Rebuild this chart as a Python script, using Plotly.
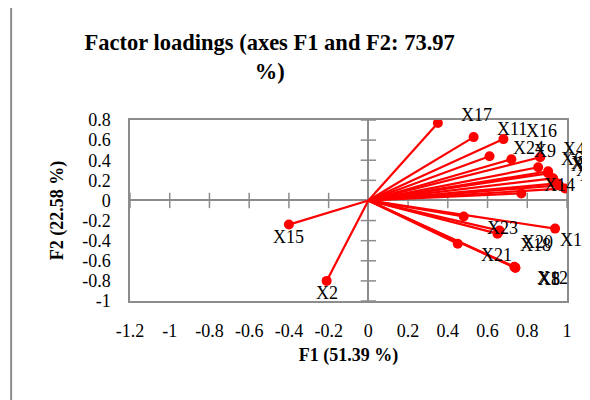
import plotly.graph_objects as go

# ---- data ----
variables = ["X17", "X11", "X16", "X24", "X9", "X4", "X6", "X3", "X13", "X7", "X10", "X22", "X1", "X14",
             "X23", "X18", "X20", "X19", "X21", "X8", "X5", "X12",
             "X15", "X2"]
f1 = [0.35, 0.53, 0.68, 0.61, 0.72, 0.865, 0.855, 0.905, 0.905, 0.93, 0.95, 0.96, 0.99, 0.77,
      0.48, 0.65, 0.66, 0.94, 0.45, 0.74, 0.74, 0.735,
      -0.40, -0.21]
f2 = [0.77, 0.63, 0.61, 0.44, 0.41, 0.43, 0.33, 0.29, 0.27, 0.22, 0.17, 0.15, 0.12, 0.07,
      -0.16, -0.33, -0.30, -0.28, -0.43, -0.67, -0.67, -0.66,
      -0.24, -0.80]
x_ticks = [-1.2, -1, -0.8, -0.6, -0.4, -0.2, 0, 0.2, 0.4, 0.6, 0.8, 1]
y_ticks = [0.8, 0.6, 0.4, 0.2, 0, -0.2, -0.4, -0.6, -0.8, -1]

title_text = "Factor loadings (axes F1 and F2: 73.97<br>%)"
x_title = "F1 (51.39 %)"
y_title = "F2 (22.58 %)"

# ---- styles ----
FONT = "Liberation Serif, Times New Roman, serif"
RED = "#FF0000"
GRAY = "#8C8C8C"
LABEL_XSHIFT_OVERRIDE = {"X19": 3}

fig = go.Figure()

# cross tick marks on the zero axes
fig.add_trace(go.Scatter(x=[t for t in x_ticks if t != 0], y=[0] * (len(x_ticks) - 1), mode="markers",
                         marker=dict(symbol="line-ns-open", size=11, color=GRAY, line=dict(color=GRAY, width=1.5)),
                         hoverinfo="skip", showlegend=False))
fig.add_trace(go.Scatter(x=[0] * (len(y_ticks) - 1), y=[t for t in y_ticks if t != 0], mode="markers",
                         marker=dict(symbol="line-ew-open", size=11, color=GRAY, line=dict(color=GRAY, width=1.5)),
                         hoverinfo="skip", showlegend=False))

# vectors
lx, ly = [], []
for a, b in zip(f1, f2):
    lx += [0, a, None]
    ly += [0, b, None]
fig.add_trace(go.Scatter(x=lx, y=ly, mode="lines", line=dict(color=RED, width=2.2),
                         hoverinfo="skip", showlegend=False))
fig.add_trace(go.Scatter(x=f1, y=f2, mode="markers", marker=dict(color=RED, size=10),
                         text=variables, hoverinfo="text", showlegend=False))

# labels
for name, a, b in zip(variables, f1, f2):
    if a < 0:
        xa, xs, ys = "center", 0, -12
    elif b >= 0:
        xa, xs, ys = "left", 21, 8
    else:
        xa, xs, ys = "left", 21, -11
    xs = LABEL_XSHIFT_OVERRIDE.get(name, xs)
    fig.add_annotation(x=a, y=b, text=name, showarrow=False, xanchor=xa, yanchor="middle",
                       xshift=xs, yshift=ys, font=dict(family=FONT, size=18, color="black"))

# outer chart-area frame
fig.add_shape(type="rect", xref="paper", yref="paper", x0=-0.272, x1=1.2, y0=-0.7, y1=1.624,
              line=dict(color=GRAY, width=2), fillcolor="rgba(0,0,0,0)", layer="below")

fig.update_layout(
    width=590, height=400,
    margin=dict(l=122, r=31, t=112, b=107, autoexpand=False),
    paper_bgcolor="white", plot_bgcolor="white",
    title=dict(text=title_text, xref="container", x=0.4435, xanchor="center",
               yref="container", y=0.895, yanchor="top",
               font=dict(family=FONT, size=22.5, color="black", weight="bold")),
    font=dict(family=FONT, color="black"),
)
fig.update_xaxes(range=[-1.2, 1], tickvals=x_ticks, ticktext=[f"{t:g}" for t in x_ticks],
                 showgrid=False, zeroline=True, zerolinecolor=GRAY, zerolinewidth=2,
                 showline=True, mirror=True, linecolor=GRAY, linewidth=1.5, automargin=False,
                 ticks="outside", ticklen=13, tickcolor="rgba(0,0,0,0)",
                 tickfont=dict(family=FONT, size=18, color="black"),
                 title=dict(text=x_title, standoff=8, font=dict(family=FONT, size=18, color="black", weight="bold")))
fig.update_yaxes(range=[-1, 0.8], tickvals=y_ticks, ticktext=[f"{t:g}" for t in y_ticks],
                 showgrid=False, zeroline=True, zerolinecolor=GRAY, zerolinewidth=2,
                 showline=True, mirror=True, linecolor=GRAY, linewidth=1.5, automargin=False,
                 ticks="outside", ticklen=14, tickcolor="rgba(0,0,0,0)",
                 tickfont=dict(family=FONT, size=18, color="black"),
                 title=dict(text=y_title, standoff=14, font=dict(family=FONT, size=18, color="black", weight="bold")))

fig.write_html("out.html")
